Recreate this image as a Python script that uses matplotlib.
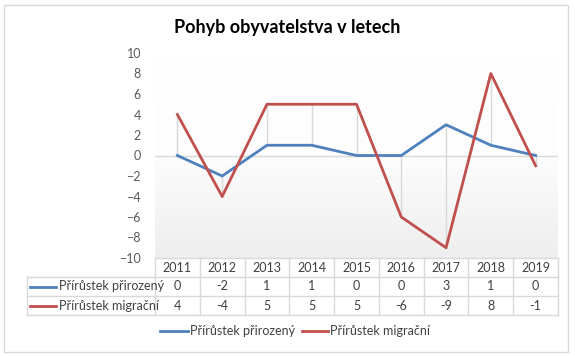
import matplotlib
matplotlib.use("Agg")
import matplotlib.pyplot as plt
import numpy as np
from matplotlib.lines import Line2D
from matplotlib.patches import Rectangle
from matplotlib.colors import LinearSegmentedColormap

years = ["2011", "2012", "2013", "2014", "2015", "2016", "2017", "2018", "2019"]
prirozeny = [0, -2, 1, 1, 0, 0, 3, 1, 0]
migracni = [4, -4, 5, 5, 5, -6, -9, 8, -1]
series_names = ["Přírůstek přirozený", "Přírůstek migrační"]
colors = ["#4F81BD", "#C0504D"]
title = "Pohyb obyvatelstva v letech"

plt.rcParams['font.family'] = ['Lato', 'DejaVu Sans']

W, H = 575, 356
fig = plt.figure(figsize=(W / 100, H / 100), dpi=100)

def fx(x):
    return x / W

def fy(y):
    return 1 - y / H

# chart border
fig.patches.append(Rectangle((fx(4), fy(352)), fx(568) - fx(4), fy(5) - fy(352),
                             transform=fig.transFigure, fill=False,
                             edgecolor="#D9D9D9", linewidth=1))

L, R, T, B = 155, 558, 53, 258
ax = fig.add_axes([fx(L), fy(B), fx(R) - fx(L), fy(T) - fy(B)])
n = len(years)
x = np.arange(n)

# gradient background
grad = np.linspace(0, 1, 256).reshape(-1, 1)
cmap = LinearSegmentedColormap.from_list("g", ["#FFFFFF", "#FDFDFD", "#EEEEEE"])
ax.imshow(grad, aspect="auto", cmap=cmap, extent=[-0.5, n - 0.5, -10, 10],
          origin="upper", zorder=0)
ax.set_xlim(-0.5, n - 0.5)
ax.set_ylim(-10, 10)

# high-low lines
for i in range(n):
    lo = min(prirozeny[i], migracni[i])
    hi = max(prirozeny[i], migracni[i])
    ax.plot([x[i], x[i]], [lo, hi], color="#D9D9D9", linewidth=1, zorder=1)

ax.axhline(0, color="#D9D9D9", linewidth=1, zorder=1)
ax.plot(x, prirozeny, color=colors[0], linewidth=2, zorder=3)
ax.plot(x, migracni, color=colors[1], linewidth=2, zorder=3)

for s in ax.spines.values():
    s.set_visible(False)
ax.set_xticks([])
ax.set_yticks(np.arange(-10, 11, 2))
ax.tick_params(axis="y", length=0, pad=10, labelsize=9, labelcolor="#595959")

# title
fig.text(fx(287), fy(27), title, ha="center", va="center", fontsize=13,
         fontweight="bold", color="#000000")

# data table
gc = "#D9D9D9"
colw = (R - L) / n
rows = [258, 277, 296, 315]
def hline(x0, x1, y):
    fig.add_artist(Line2D([fx(x0), fx(x1)], [fy(y), fy(y)], color=gc, linewidth=1))
def vline(xx, y0, y1):
    fig.add_artist(Line2D([fx(xx), fx(xx)], [fy(y0), fy(y1)], color=gc, linewidth=1))

hline(L, R, rows[0])
for y in rows[1:]:
    hline(27, R, y)
for j in range(n + 1):
    vline(L + j * colw, rows[0], rows[3])
vline(27, rows[1], rows[3])

tc = "#404040"
fs = 9
for j in range(n):
    cx = L + (j + 0.5) * colw
    fig.text(fx(cx), fy((rows[0] + rows[1]) / 2), years[j], ha="center", va="center",
             fontsize=fs, color=tc)
    fig.text(fx(cx), fy((rows[1] + rows[2]) / 2), str(prirozeny[j]), ha="center",
             va="center", fontsize=fs, color=tc)
    fig.text(fx(cx), fy((rows[2] + rows[3]) / 2), str(migracni[j]), ha="center",
             va="center", fontsize=fs, color=tc)

for k in range(2):
    yc = (rows[k + 1] + rows[k + 2]) / 2
    fig.add_artist(Line2D([fx(30), fx(56)], [fy(yc), fy(yc)], color=colors[k], linewidth=2))
    fig.text(fx(59), fy(yc), series_names[k], ha="left", va="center", fontsize=fs, color=tc)

# bottom legend
ly = 331
for k, (x0, x1, tx) in enumerate([(160, 188, 190), (302, 328, 330)]):
    fig.add_artist(Line2D([fx(x0), fx(x1)], [fy(ly), fy(ly)], color=colors[k], linewidth=2))
    fig.text(fx(tx), fy(ly), series_names[k], ha="left", va="center", fontsize=fs, color=tc)

fig.savefig("out.png", dpi=100)
